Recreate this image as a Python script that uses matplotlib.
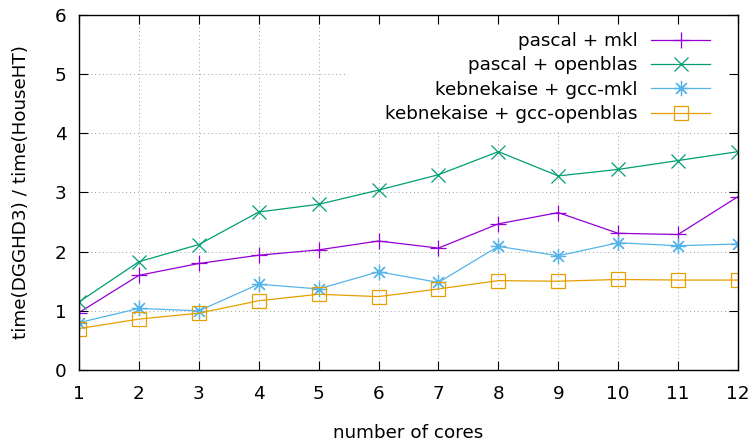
#!/usr/bin/env python3
import matplotlib as mpl
import matplotlib.pyplot as plt
from matplotlib.patches import Rectangle

cores = [1, 2, 3, 4, 5, 6, 7, 8, 9, 10, 11, 12]
pascal_mkl = [0.97, 1.60, 1.80, 1.94, 2.03, 2.18, 2.06, 2.47, 2.66, 2.31, 2.29, 2.93]
pascal_openblas = [1.15, 1.83, 2.12, 2.67, 2.80, 3.04, 3.30, 3.69, 3.28, 3.39, 3.54, 3.69]
keb_gcc_mkl = [0.80, 1.04, 1.00, 1.45, 1.37, 1.66, 1.48, 2.09, 1.93, 2.15, 2.10, 2.13]
keb_gcc_openblas = [0.70, 0.86, 0.96, 1.17, 1.28, 1.24, 1.37, 1.51, 1.50, 1.53, 1.52, 1.52]

xticks = list(range(1, 13))
yticks = [0, 1, 2, 3, 4, 5, 6]


def main():
    mpl.rcParams["font.family"] = "DejaVu Sans"
    mpl.rcParams["font.size"] = 13.2
    mpl.rcParams["axes.axisbelow"] = False

    fig = plt.figure(figsize=(7.5, 4.43), dpi=100)
    ax = fig.add_axes([0.1053, 0.1648, 0.8787, 0.8014])

    # gnuplot-style dotted grid, drawn by hand so the key box can hide it
    grid_style = {"color": "#a0a0a0", "linestyle": (0, (1, 3)), "linewidth": 0.7, "zorder": 1}
    for x in xticks[1:-1]:
        ax.axvline(x, **grid_style)
    for y in yticks[1:-1]:
        ax.axhline(y, **grid_style)
    ax.add_patch(Rectangle((0.408, 0.676), 0.592, 0.324, transform=ax.transAxes,
                           facecolor="white", edgecolor="none", zorder=1.2))

    series = [
        (pascal_mkl, "pascal + mkl", "#9400d3", "+", 11),
        (pascal_openblas, "pascal + openblas", "#009e73", "x", 10),
        (keb_gcc_mkl, "kebnekaise + gcc-mkl", "#56b4e9", (8, 2, 0), 11),
        (keb_gcc_openblas, "kebnekaise + gcc-openblas", "#e69f00", "s", 10),
    ]
    for values, label, color, marker, ms in series:
        ax.plot(cores, values, color=color, marker=marker, markersize=ms,
                markerfacecolor="none", markeredgecolor=color, markeredgewidth=0.9,
                linewidth=0.9, label=label, zorder=2)

    ax.set_xlim(1, 12)
    ax.set_ylim(0, 6)
    ax.set_xticks(xticks)
    ax.set_yticks(yticks)
    ax.tick_params(direction="in", top=True, right=True, length=6.5, width=0.8)
    ax.tick_params(axis="x", pad=11)
    ax.tick_params(axis="y", pad=9)
    for spine in ax.spines.values():
        spine.set_linewidth(1.0)

    ax.set_xlabel("number of cores", labelpad=15)
    ax.set_ylabel("time(DGGHD3) / time(HouseHT)", labelpad=18)

    ax.legend(loc="upper right", bbox_to_anchor=(0.9575, 0.952), frameon=False,
              markerfirst=False, borderaxespad=0, borderpad=0, handlelength=3.2,
              handletextpad=0.75, labelspacing=0.35)

    fig.savefig("out.png", dpi=100)
    plt.close(fig)


if __name__ == "__main__":
    main()
